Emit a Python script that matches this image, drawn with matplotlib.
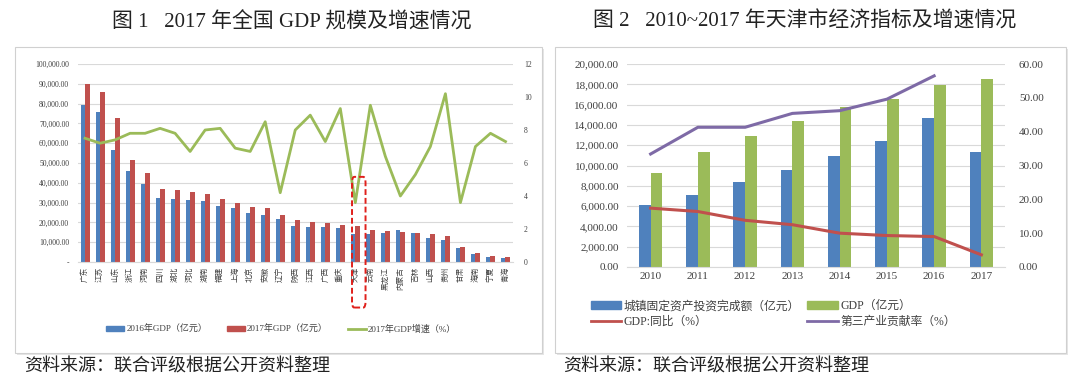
import numpy as np
import matplotlib
matplotlib.use('Agg')
import matplotlib.pyplot as plt
from matplotlib.patches import Rectangle, FancyBboxPatch, Patch
from matplotlib.lines import Line2D
from matplotlib.ticker import FuncFormatter, MultipleLocator

plt.rcParams['font.family'] = ['Liberation Serif', 'Noto Sans CJK SC', 'DejaVu Sans']

# ---- Figure 1 data ----
provinces = ['广东', '江苏', '山东', '浙江', '河南', '四川', '湖北', '河北', '湖南', '福建',
             '上海', '北京', '安徽', '辽宁', '陕西', '江西', '广西', '重庆', '天津', '云南',
             '黑龙江', '内蒙古', '吉林', '山西', '贵州', '甘肃', '海南', '宁夏', '青海']
gdp_2016 = [79300, 75900, 56800, 46200, 39600, 32400, 32000, 31500, 31000, 28300,
            27200, 24600, 23900, 21900, 18400, 17700, 17700, 17000, 14000, 14300,
            14800, 16000, 14500, 12100, 11000, 7200, 3900, 2700, 2200]
gdp_2017 = [89900, 85700, 72500, 51400, 44700, 36800, 36400, 35600, 34200, 32000,
            29700, 27700, 27200, 23600, 21400, 20400, 19700, 18900, 18000, 16000,
            15500, 15300, 14500, 14300, 13000, 7400, 4400, 3200, 2600]
growth_2017 = [7.5, 7.2, 7.4, 7.8, 7.8, 8.1, 7.8, 6.7, 8.0, 8.1,
               6.9, 6.7, 8.5, 4.2, 8.0, 8.9, 7.3, 9.3, 3.6, 9.5,
               6.4, 4.0, 5.3, 7.0, 10.2, 3.6, 7.0, 7.8, 7.3]

# ---- Figure 2 data ----
years = ['2010', '2011', '2012', '2013', '2014', '2015', '2016', '2017']
invest = [6130, 7110, 8360, 9570, 10950, 12430, 14690, 11310]
tj_gdp = [9224, 11307, 12894, 14370, 15727, 16538, 17885, 18549]
gdp_yoy = [17.4, 16.4, 13.8, 12.5, 10.0, 9.3, 9.0, 3.6]
tertiary = [33.4, 41.3, 41.3, 45.4, 46.2, 49.6, 56.5]

BLUE = '#4f81bd'
RED = '#c0504d'
GREEN = '#9bbb59'
PURPLE = '#7e6aa6'
GRID = '#d9d9d9'
TXT = '#404040'
CJK = ['Liberation Serif', 'Noto Sans CJK SC']

fig = plt.figure(figsize=(10.8, 3.87), dpi=100)
W, H = 1080, 387

def fx(px):
    return px / W

def fy(py):
    return 1 - py / H

# panel frames
for x0, x1 in [(15, 542), (555, 1066)]:
    fig.patches.append(Rectangle((fx(x0 + 2), fy(355)), fx(x1 - x0), fy(49) - fy(355),
                                 transform=fig.transFigure, facecolor='#e6e6e6',
                                 edgecolor='none', zorder=-10))
    fig.patches.append(Rectangle((fx(x0), fy(353)), fx(x1 - x0), fy(47) - fy(353),
                                 transform=fig.transFigure, facecolor='white',
                                 edgecolor='#d0d0d0', linewidth=0.8, zorder=-9))

# titles and sources
fig.text(fx(292), fy(22), '图 1   2017 年全国 GDP 规模及增速情况', ha='center', va='center',
         fontsize=15, family=CJK, color='#222222')
fig.text(fx(805), fy(22), '图 2   2010~2017 年天津市经济指标及增速情况', ha='center', va='center',
         fontsize=15, family=CJK, color='#222222')
fig.text(fx(24), fy(367), '资料来源：联合评级根据公开资料整理', ha='left', va='center',
         fontsize=13, family=CJK, color='#222222')
fig.text(fx(563), fy(367), '资料来源：联合评级根据公开资料整理', ha='left', va='center',
         fontsize=13, family=CJK, color='#222222')

# ---- left chart ----
ax1 = fig.add_axes([fx(77.5), fy(262), fx(513) - fx(77.5), fy(64) - fy(262)])
ax1.patch.set_visible(False)
x = np.arange(len(provinces))
ax1.bar(x - 0.15, gdp_2016, width=0.3, color=BLUE, zorder=2)
ax1.bar(x + 0.15, gdp_2017, width=0.3, color=RED, zorder=2)
ax1.set_ylim(0, 100000)
ax1.set_xlim(-0.5, len(provinces) - 0.5)
ax1.yaxis.set_major_locator(MultipleLocator(10000))
ax1.yaxis.set_major_formatter(FuncFormatter(lambda v, p: '-' if v == 0 else f'{v:,.2f}'))
ax1.grid(axis='y', color=GRID, linewidth=0.8, zorder=0)
ax1.set_axisbelow(True)
ax1.set_xticks(x)
ax1.set_xticklabels(provinces, rotation=90, family=CJK, fontsize=6, color=TXT)
for s in ['top', 'right', 'left']:
    ax1.spines[s].set_visible(False)
ax1.spines['bottom'].set_color(GRID)
ax1.tick_params(axis='both', length=0, labelsize=5.5, colors=TXT)
ax1.tick_params(axis='y', pad=6)

ax1r = ax1.twinx()
ax1r.plot(x, growth_2017, color=GREEN, linewidth=2, zorder=3)
ax1r.set_ylim(0, 12)
ax1r.yaxis.set_major_locator(MultipleLocator(2))
for s in ['top', 'right', 'left', 'bottom']:
    ax1r.spines[s].set_visible(False)
ax1r.tick_params(axis='y', length=0, labelsize=5.5, colors=TXT, pad=8)

# highlight box around 天津
ti = provinces.index('天津')
hl = FancyBboxPatch((ti - 0.22, -23000), 0.9, 66000,
                    boxstyle='round,pad=0,rounding_size=0.15', mutation_aspect=20000,
                    transform=ax1.transData, fill=False, edgecolor='#e0201b',
                    linestyle=(0, (3, 1.5)), linewidth=1.4, clip_on=False, zorder=5)
ax1r.add_patch(hl)

leg1 = [Patch(color=BLUE, label='2016年GDP（亿元）'),
        Patch(color=RED, label='2017年GDP（亿元）'),
        Line2D([], [], color=GREEN, linewidth=2, label='2017年GDP增速（%）')]
fig.legend(handles=leg1, loc='center', bbox_to_anchor=(fx(281), fy(329)), ncol=3,
           frameon=False, prop={'family': CJK, 'size': 6.5}, handlelength=2.0,
           handleheight=0.6, columnspacing=2.2, handletextpad=0.2, labelcolor=TXT)

# ---- right chart ----
ax2 = fig.add_axes([fx(627), fy(267), fx(1005) - fx(627), fy(64) - fy(267)])
ax2.patch.set_visible(False)
xi = np.arange(len(years))
ax2.bar(xi - 0.125, invest, width=0.25, color=BLUE, zorder=2)
ax2.bar(xi + 0.125, tj_gdp, width=0.25, color=GREEN, zorder=2)
ax2.set_ylim(0, 20000)
ax2.set_xlim(-0.5, len(years) - 0.5)
ax2.yaxis.set_major_locator(MultipleLocator(2000))
ax2.yaxis.set_major_formatter(FuncFormatter(lambda v, p: f'{v:,.2f}'))
ax2.grid(axis='y', color=GRID, linewidth=0.8, zorder=0)
ax2.set_axisbelow(True)
ax2.set_xticks(xi)
ax2.set_xticklabels(years)
for s in ['top', 'right', 'left']:
    ax2.spines[s].set_visible(False)
ax2.spines['bottom'].set_color(GRID)
ax2.tick_params(axis='both', length=0, labelsize=8, colors=TXT)
ax2.tick_params(axis='y', pad=6)

ax2r = ax2.twinx()
ax2r.plot(xi, gdp_yoy, color=RED, linewidth=2.2, zorder=3)
ax2r.plot(xi[:len(tertiary)], tertiary, color=PURPLE, linewidth=2.2, zorder=3)
ax2r.set_ylim(0, 60)
ax2r.yaxis.set_major_locator(MultipleLocator(10))
ax2r.yaxis.set_major_formatter(FuncFormatter(lambda v, p: f'{v:.2f}'))
for s in ['top', 'right', 'left', 'bottom']:
    ax2r.spines[s].set_visible(False)
ax2r.tick_params(axis='y', length=0, labelsize=8, colors=TXT, pad=10)

leg2 = [Patch(color=BLUE, label='城镇固定资产投资完成额（亿元）'),
        Line2D([], [], color=RED, linewidth=2, label='GDP:同比（%）'),
        Patch(color=GREEN, label='GDP（亿元）'),
        Line2D([], [], color=PURPLE, linewidth=2, label='第三产业贡献率（%）')]
fig.legend(handles=leg2, loc='center left', bbox_to_anchor=(fx(580), fy(314)), ncol=2,
           frameon=False, prop={'family': CJK, 'size': 8.5}, handlelength=2.6,
           handleheight=0.6, columnspacing=0.6, handletextpad=0.2, labelspacing=0.3,
           labelcolor=TXT)

fig.savefig('out.png', dpi=100)
